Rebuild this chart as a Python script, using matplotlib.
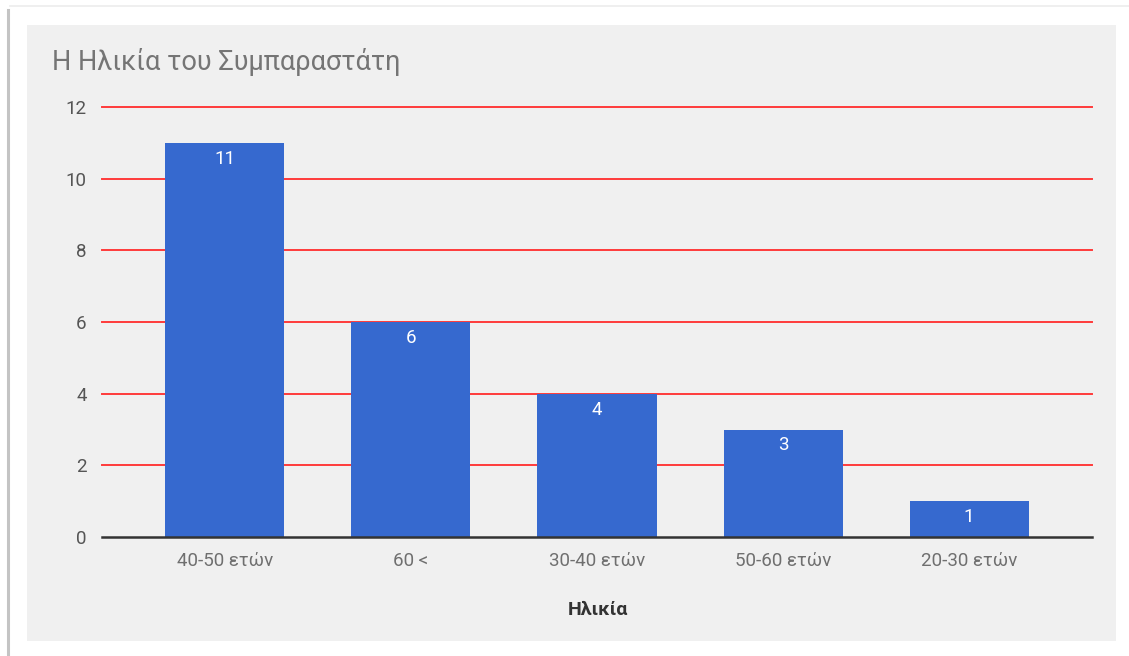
import matplotlib
matplotlib.use("Agg")
import matplotlib.pyplot as plt
from matplotlib.patches import Rectangle
from matplotlib.lines import Line2D

plt.rcParams['font.family'] = ['Roboto', 'DejaVu Sans']

# ---- data ---------------------------------------------------
categories = ["40-50 ετών", "60 <", "30-40 ετών", "50-60 ετών", "20-30 ετών"]
counts = [11, 6, 4, 3, 1]
y_ticks = [0, 2, 4, 6, 8, 10, 12]
title = "Η Ηλικία του Συμπαραστάτη"
x_title = "Ηλικία"

W, H = 1129, 656
fig = plt.figure(figsize=(W / 100, H / 100), dpi=100)
fig.patch.set_facecolor("white")

def fx(px):
    return px / W

def fy(py):
    return 1 - py / H

# card shadow + grey panel
fig.add_artist(Line2D([fx(8), fx(8)], [fy(10), fy(656)], color="#c4c4c4", lw=2.2))
fig.add_artist(Line2D([fx(10), fx(1129)], [fy(6), fy(6)], color="#ececec", lw=1.2))
fig.add_artist(Rectangle((fx(27), fy(641)), fx(1116) - fx(27), fy(25) - fy(641),
                         facecolor="#f0f0f0", edgecolor="none", zorder=0))

ax = fig.add_axes([fx(102), fy(537), fx(1092) - fx(102), fy(107) - fy(537)])
ax.set_facecolor("none")

x = list(range(len(categories)))
bars = ax.bar(x, counts, width=0.64, color="#3669cf", zorder=3)

for b, v in zip(bars, counts):
    ax.annotate(str(v), (b.get_x() + b.get_width() / 2, v),
                xytext=(0, -11.5), textcoords="offset points",
                ha="center", va="center", color="white", fontsize=13.5, zorder=4)

for t in y_ticks[1:]:
    ax.axhline(t, color="#ff3b3b", lw=1.4, zorder=1, clip_on=False)
ax.axhline(0, color="#333333", lw=1.8, zorder=5, clip_on=False)

ax.set_xlim(-0.66, len(categories) - 0.34)
ax.set_ylim(0, 12)
ax.set_yticks(y_ticks)
ax.set_xticks(x)
ax.set_xticklabels(categories)
for s in ax.spines.values():
    s.set_visible(False)
ax.tick_params(axis="y", length=0, pad=11, labelsize=13.5, labelcolor="#555555")
ax.tick_params(axis="x", length=0, pad=11, labelsize=13.5, labelcolor="#6f6f6f")

fig.text(fx(52), fy(62), title, ha="left", va="center",
         fontsize=19.5, color="#757575")
fig.text(fx(598), fy(610), x_title, ha="center", va="center",
         fontsize=14, fontweight="bold", color="#333333")

fig.savefig("out.png", dpi=100)
